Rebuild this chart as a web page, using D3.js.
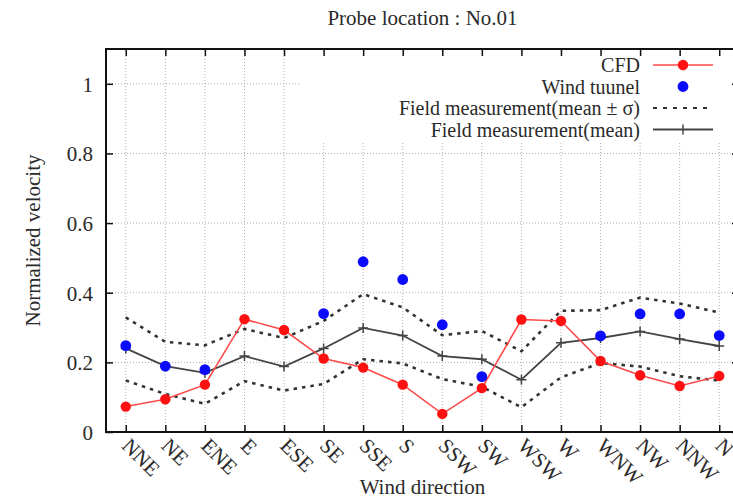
<!DOCTYPE html>
<html><head><meta charset="utf-8">
<script src="https://cdn.jsdelivr.net/npm/d3@7"></script>
<style>
html,body{margin:0;padding:0;background:#fff;}
</style></head>
<body><svg id="c" width="733" height="498"></svg>
<script>
const directions = ["NNE","NE","ENE","E","ESE","SE","SSE","S","SSW","SW","WSW","W","WNW","NW","NNW","N"];
const cfd = [0.073,0.094,0.136,0.324,0.293,0.211,0.185,0.136,0.052,0.126,0.323,0.319,0.204,0.163,0.132,0.161];
const windTunnel = [0.248,0.189,0.179,null,null,0.340,0.489,0.438,0.308,0.159,null,null,0.276,0.339,0.339,0.277];
const fieldMean = [0.240,0.189,0.170,0.218,0.188,0.240,0.299,0.277,0.218,0.209,0.150,0.256,0.270,0.289,0.267,0.247];
const fieldUpper = [0.329,0.259,0.249,0.296,0.270,0.319,0.396,0.358,0.278,0.290,0.232,0.348,0.350,0.386,0.369,0.343];
const fieldLower = [0.148,0.109,0.081,0.146,0.119,0.138,0.209,0.197,0.152,0.130,0.071,0.157,0.198,0.188,0.160,0.148];
const yTicks = [0,0.2,0.4,0.6,0.8,1];
const legendLabels = ["CFD","Wind tuunel","Field measurement(mean \u00b1 \u03c3)","Field measurement(mean)"];

const svg = d3.select("#c");
const L = 106, R = 739, T = 49, B = 432;
const x = d3.scaleLinear().domain([0.5, 16.5]).range([L, R]);
const y = d3.scaleLinear().domain([0, 1.1]).range([B, T]);
const xi = i => x(i + 1);
const txt = sel => sel.attr("font-family","Liberation Serif").attr("font-size",21).attr("fill","#2a2a2a");

// grid
const grid = svg.append("g").attr("stroke","#b0b0b0").attr("stroke-width",1).attr("stroke-dasharray","1,2");
directions.forEach((d,i)=>{
  grid.append("line").attr("x1",xi(i)).attr("x2",xi(i)).attr("y1",B).attr("y2",T);
});
yTicks.filter(v=>v>0).forEach(v=>{
  grid.append("line").attr("x1",L).attr("x2",R).attr("y1",y(v)).attr("y2",y(v));
});

// legend background
svg.append("rect").attr("x",300).attr("y",T+1).attr("width",R-300).attr("height",140-T).attr("fill","#fff");

// axes frame with inward ticks
const ax = svg.append("g");
const xAxisB = d3.axisBottom(x).tickValues(d3.range(1,17)).tickSize(-7).tickFormat("");
const xAxisT = d3.axisTop(x).tickValues(d3.range(1,17)).tickSize(-7).tickFormat("");
const yAxisL = d3.axisLeft(y).tickValues(yTicks).tickSize(-7).tickFormat(d3.format("~g")).tickPadding(13);
const yAxisR = d3.axisRight(y).tickValues(yTicks).tickSize(-7).tickFormat("");
ax.append("g").attr("transform",`translate(0,${B})`).call(xAxisB);
ax.append("g").attr("transform",`translate(0,${T})`).call(xAxisT);
const yl = ax.append("g").attr("transform",`translate(${L},0)`).call(yAxisL);
ax.append("g").attr("transform",`translate(${R},0)`).call(yAxisR);
ax.selectAll(".domain").remove();
ax.selectAll("g").attr("font-family","Liberation Serif");
ax.selectAll(".tick line").attr("stroke","#111").attr("stroke-width",1.5);
yl.selectAll("text").call(txt).attr("dy","0.35em");
svg.append("rect").attr("x",L).attr("y",T).attr("width",R-L).attr("height",B-T)
  .attr("fill","none").attr("stroke","#111").attr("stroke-width",2);

// x tick labels rotated
svg.append("g").selectAll("text").data(directions).join("text")
  .attr("transform",(d,i)=>`translate(${xi(i)-5},${B+15}) rotate(45)`)
  .call(txt).text(d=>d);

// titles
svg.append("text").attr("x",(L+R)/2).attr("y",25).attr("text-anchor","middle").call(txt).text("Probe location : No.01");
svg.append("text").attr("x",(L+R)/2).attr("y",494).attr("text-anchor","middle").call(txt).text("Wind direction");
svg.append("text").attr("transform",`translate(40,${(T+B)/2}) rotate(-90)`).attr("text-anchor","middle").call(txt).text("Normalized velocity");

// data
const line = d3.line().x((d,i)=>xi(i)).y(d=>y(d));
[fieldUpper, fieldLower].forEach(s=>{
  svg.append("path").attr("d",line(s)).attr("fill","none")
    .attr("stroke","#333").attr("stroke-width",2.6).attr("stroke-dasharray","3.5,5");
});
svg.append("path").attr("d",line(fieldMean)).attr("fill","none").attr("stroke","#444").attr("stroke-width",1.8);
svg.append("g").selectAll("path").data(fieldMean).join("path")
  .attr("d",(d,i)=>`M${xi(i)-5},${y(d)}H${xi(i)+5}M${xi(i)},${y(d)-5}V${y(d)+5}`)
  .attr("stroke","#444").attr("stroke-width",1.5);
svg.append("path").attr("d",line(cfd)).attr("fill","none").attr("stroke","#ff4a4a").attr("stroke-width",1.6);
svg.append("g").selectAll("circle").data(cfd).join("circle")
  .attr("cx",(d,i)=>xi(i)).attr("cy",d=>y(d)).attr("r",5.2).attr("fill","#ff1010");
svg.append("g").selectAll("circle").data(windTunnel.map((v,i)=>[i,v]).filter(d=>d[1]!==null)).join("circle")
  .attr("cx",d=>xi(d[0])).attr("cy",d=>y(d[1])).attr("r",5.4).attr("fill","#0a0aff");

// legend
const lg = svg.append("g");
const rows = [65, 86.5, 108, 129.5];
const lx0 = 653, lx1 = 713, lxm = 683;
legendLabels.forEach((t,k)=>{
  lg.append("text").attr("x",640).attr("y",rows[k]).attr("dy","0.35em").attr("text-anchor","end").call(txt).attr("font-size",20).text(t);
});
lg.append("line").attr("x1",lx0).attr("x2",lx1).attr("y1",rows[0]).attr("y2",rows[0]).attr("stroke","#ff4a4a").attr("stroke-width",1.6);
lg.append("circle").attr("cx",lxm).attr("cy",rows[0]).attr("r",5.2).attr("fill","#ff1010");
lg.append("circle").attr("cx",lxm).attr("cy",rows[1]).attr("r",5.4).attr("fill","#0a0aff");
lg.append("line").attr("x1",lx0).attr("x2",lx1).attr("y1",rows[2]).attr("y2",rows[2])
  .attr("stroke","#333").attr("stroke-width",1.8).attr("stroke-dasharray","4,6");
lg.append("line").attr("x1",lx0).attr("x2",lx1).attr("y1",rows[3]).attr("y2",rows[3]).attr("stroke","#444").attr("stroke-width",1.8);
lg.append("path").attr("d",`M${lxm},${rows[3]-5}V${rows[3]+5}`).attr("stroke","#444").attr("stroke-width",1.5);
</script></body></html>
